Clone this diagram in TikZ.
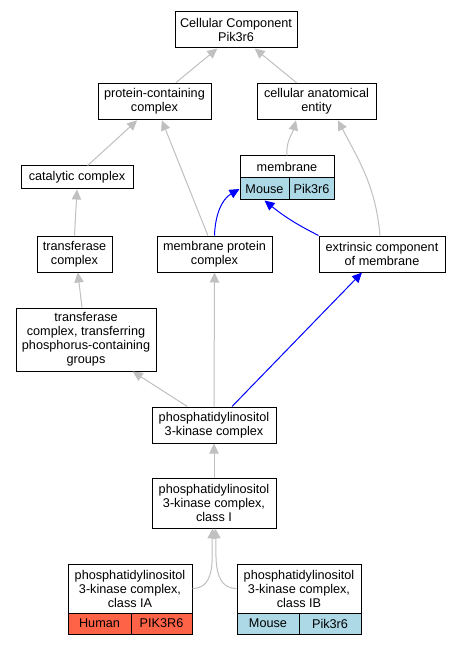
\documentclass[tikz,border=0pt]{standalone}
\usepackage{fontspec}
\setmainfont{Liberation Sans}
\definecolor{edgegray}{RGB}{192,192,192}
\definecolor{mouseblue}{HTML}{ADD8E6}
\definecolor{humanred}{HTML}{FF6347}
\usetikzlibrary{arrows.meta}
\tikzset{
  term/.style={draw=black, line width=0.75pt, fill=white, align=center, inner sep=0pt,
    font=\fontsize{9.5}{10.5}\selectfont},
  isa/.style={draw=edgegray, line width=0.75pt, -{Triangle[length=7.5pt,width=7pt]}},
  hit/.style={draw=blue, line width=0.75pt, -{Triangle[length=7.5pt,width=7pt]}}
}
\begin{document}
\begin{tikzpicture}[x=0.75pt,y=-0.75pt]
\useasboundingbox[fill=white] (0,0) rectangle (460,645);
\node[term, minimum width=91.5pt, minimum height=27pt] (top) at (236,30) {Cellular Component\\Pik3r6};
\node[term, minimum width=84.75pt, minimum height=27.5pt] (prot) at (154.5,101.5) {protein-containing\\complex};
\node[term, minimum width=89.25pt, minimum height=27.5pt] (cae) at (316.5,101.5) {cellular anatomical\\entity};
\node[term, minimum width=84pt, minimum height=17.25pt] (cat) at (77,177.5) {catalytic complex};
\node[term, minimum width=70.5pt, minimum height=16.5pt] (mem) at (287,167) {membrane};
\node[term, fill=mouseblue, minimum width=36.75pt, minimum height=16.5pt] (memsp) at (264.5,189) {Mouse};
\node[term, fill=mouseblue, minimum width=33.75pt, minimum height=16.5pt] (memgn) at (311.5,189) {Pik3r6};
\node[term, minimum width=56.25pt, minimum height=27pt] (trans) at (74.5,254) {transferase\\complex};
\node[term, minimum width=86.25pt, minimum height=27pt] (mpc) at (214.5,254) {membrane protein\\complex};
\node[term, minimum width=94.5pt, minimum height=27pt] (ext) at (382,254) {extrinsic component\\of membrane};
\node[term, minimum width=105pt, minimum height=47.25pt] (transp) at (86,339.5) {transferase\\complex, transferring\\phosphorus-containing\\groups};
\node[term, minimum width=93pt, minimum height=27pt] (pik) at (214,425) {phosphatidylinositol\\3-kinase complex};
\node[term, minimum width=93pt, minimum height=37.5pt] (pikI) at (214,503) {phosphatidylinositol\\3-kinase complex,\\class I};
\node[term, minimum width=93pt, minimum height=36.75pt] (pikIA) at (130,588.5) {phosphatidylinositol\\3-kinase complex,\\class IA};
\node[term, fill=humanred, minimum width=47.25pt, minimum height=15.75pt] (iasp) at (99.5,623.5) {Human};
\node[term, fill=humanred, minimum width=45.75pt, minimum height=15.75pt] (iagn) at (161.5,623.5) {PIK3R6};
\node[term, minimum width=93pt, minimum height=36.75pt] (pikIB) at (299,588.5) {phosphatidylinositol\\3-kinase complex,\\class IB};
\node[term, fill=mouseblue, minimum width=46.5pt, minimum height=15.75pt] (ibsp) at (268,623.5) {Mouse};
\node[term, fill=mouseblue, minimum width=46.5pt, minimum height=15.75pt] (ibgn) at (330,623.5) {Pik3r6};
\draw[isa] ([xshift=16pt]prot.north) -- ([xshift=-14pt]top.south);
\draw[isa] ([xshift=-15pt]cae.north) -- ([xshift=14pt]top.south);
\draw[isa] ([xshift=8pt]cat.north) -- ([xshift=-13pt]prot.south);
\draw[isa] ([xshift=-5pt]mpc.north) -- ([xshift=5.5pt]prot.south);
\draw[isa] (mem.north) to[out=95,in=-105] ([xshift=-15.4pt]cae.south);
\draw[isa] ([xshift=-1.5pt]ext.north) to[out=95,in=-62] ([xshift=16pt]cae.south);
\draw[isa] (trans.north) -- (cat.south);
\draw[isa] ([xshift=-3pt]transp.north) -- ([xshift=2.5pt]trans.south);
\draw[isa] ([xshift=-20pt]pik.north) -- ([xshift=35pt]transp.south);
\draw[isa] (pik.north) -- (mpc.south);
\draw[isa] (pikI.north) -- (pik.south);
\draw[isa] (pikIA.east) to[out=0,in=-93] ([xshift=-1pt]pikI.south);
\draw[isa] (pikIB.west) to[out=180,in=-87] ([xshift=1pt]pikI.south);
\draw[hit] (mpc.north) to[out=88,in=210] (memsp.west);
\draw[hit] (ext.north west) to[bend left=6] (memsp.south);
\draw[hit] ([xshift=13.5pt]pik.north) -- ([xshift=-15pt]ext.south);
\end{tikzpicture}
\end{document}
